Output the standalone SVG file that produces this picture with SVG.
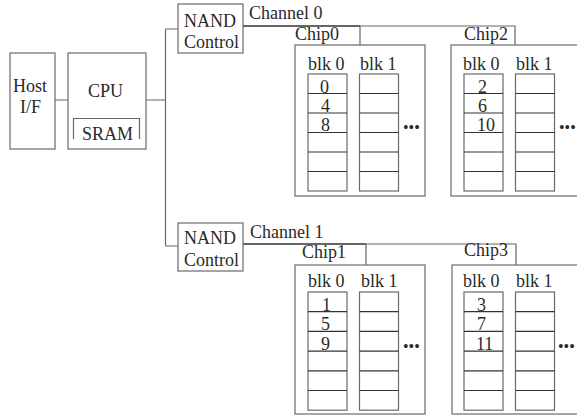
<svg xmlns="http://www.w3.org/2000/svg" width="577" height="416" viewBox="0 0 577 416">
<style>
text{font-family:"Liberation Serif","Times New Roman",serif;font-size:18px;fill:#2a2a2a}
.box{fill:#fff;stroke:#6a6a6a;stroke-width:1.2}
.col{fill:none;stroke:#6a6a6a;stroke-width:1.2}
.row{stroke:#333;stroke-width:1.2}
.ln{fill:none;stroke:#666;stroke-width:1.2}
.dk{fill:none;stroke:#333;stroke-width:1.6}
.dots{font-size:16px}
</style>
<defs>
<g id="blocks">
<rect class="col" x="0" y="0" width="39" height="117"/>
<path class="row" d="M0,19.5H39M0,39H39M0,58.5H39M0,78H39M0,97.5H39"/>
<rect class="col" x="51.5" y="0" width="39" height="117"/>
<path class="row" d="M51.5,19.5H90.5M51.5,39H90.5M51.5,58.5H90.5M51.5,78H90.5M51.5,97.5H90.5"/>
</g>
</defs>
<g id="connectors">
<path class="ln" d="M55,100H68M146,100H165.5M165.5,29V246M165.5,29H178M165.5,246H178"/>
<path class="dk" d="M243,26H360"/>
<path class="ln" d="M360,45V26H515V45"/>
<path class="dk" d="M243,244H366"/>
<path class="ln" d="M366,265V244H516V265"/>
</g>
<g id="host">
<rect class="box" x="10" y="53" width="45" height="96"/>
<text x="13" y="92">Host</text>
<text x="20" y="113">I/F</text>
</g>
<g id="cpu">
<rect class="box" x="68" y="53" width="78" height="96"/>
<text x="88" y="97">CPU</text>
<path class="ln" d="M73.5,139V118.5H139.5V139"/>
<text x="82" y="140">SRAM</text>
</g>
<g id="nand0">
<rect class="box" x="178" y="4" width="65" height="49"/>
<text x="184" y="27">NAND</text>
<text x="184" y="48">Control</text>
</g>
<text x="249" y="19">Channel 0</text>
<g id="nand1">
<rect class="box" x="178" y="223" width="65" height="48"/>
<text x="184" y="244">NAND</text>
<text x="184" y="266">Control</text>
</g>
<text x="250" y="238">Channel 1</text>
<g id="chip0">
<rect class="box" x="295" y="45" width="130" height="151"/>
<text x="295" y="40">Chip0</text>
<text x="308" y="70">blk 0</text>
<text x="360" y="70">blk 1</text>
<use href="#blocks" x="308" y="74"/>
<text x="320" y="93">0</text>
<text x="321" y="112">4</text>
<text x="321" y="131">8</text>
<text class="dots" x="403" y="133">•••</text>
</g>
<g id="chip2">
<rect class="box" x="451" y="45" width="140" height="151"/>
<text x="464" y="40">Chip2</text>
<text x="463" y="70">blk 0</text>
<text x="516" y="70">blk 1</text>
<use href="#blocks" x="464" y="74"/>
<text x="478" y="93">2</text>
<text x="478" y="112">6</text>
<text x="477" y="131">10</text>
<text class="dots" x="559" y="133">•••</text>
</g>
<g id="chip1">
<rect class="box" x="295" y="265" width="130" height="149"/>
<text x="302" y="258">Chip1</text>
<text x="308" y="287">blk 0</text>
<text x="361" y="287">blk 1</text>
<use href="#blocks" x="308" y="292" transform="translate(0,-2.9) scale(1,1.01)"/>
<text x="322" y="311">1</text>
<text x="321" y="330">5</text>
<text x="321" y="350">9</text>
<text class="dots" x="403" y="352">•••</text>
</g>
<g id="chip3">
<rect class="box" x="452" y="265" width="140" height="149"/>
<text x="464" y="256">Chip3</text>
<text x="463" y="287">blk 0</text>
<text x="516" y="287">blk 1</text>
<use href="#blocks" x="464" y="292" transform="translate(0,-2.9) scale(1,1.01)"/>
<text x="477" y="311">3</text>
<text x="477" y="330">7</text>
<text x="476" y="350">11</text>
<text class="dots" x="558" y="352">•••</text>
</g>
</svg>
